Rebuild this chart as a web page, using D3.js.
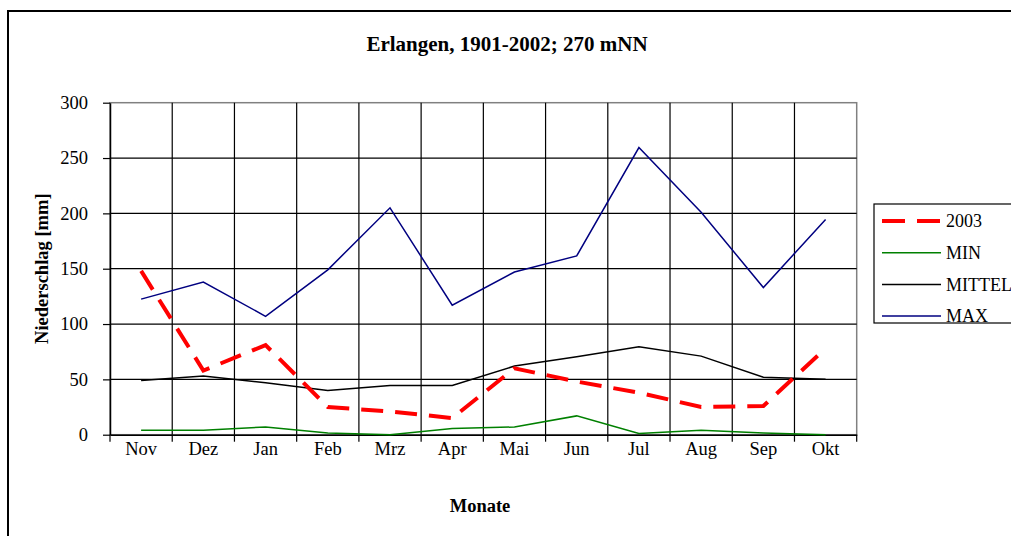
<!DOCTYPE html>
<html>
<head>
<meta charset="utf-8">
<script src="https://cdn.jsdelivr.net/npm/d3@7"></script>
<style>
  html, body { margin: 0; padding: 0; background: #fff; }
  svg { display: block; }
  text { font-family: "Liberation Serif", "Times New Roman", serif; fill: #000; }
</style>
</head>
<body>
<svg id="chart" width="1011" height="536"></svg>
<script>
const months = ["Nov","Dez","Jan","Feb","Mrz","Apr","Mai","Jun","Jul","Aug","Sep","Okt"];
const values2003 = [148, 58, 81, 25, 21, 15, 60, 48, 38, 25, 26, 78];
const valuesMin = [4, 4, 7, 1.5, 0, 5.5, 7, 17, 1, 4, 1.5, 0];
const valuesMittel = [49, 53, 47, 40, 44.5, 44.5, 62, 70.5, 79.5, 71, 52, 50];
const valuesMax = [122.5, 138, 107, 149, 205, 117, 147, 161.5, 259.5, 201, 133, 194.5];
const yTicks = [0, 50, 100, 150, 200, 250, 300];
const seriesNames = ["2003", "MIN", "MITTEL", "MAX"];

const svg = d3.select("#chart");
const L = 110, R = 856.7, T = 102.7, B = 434.7;

const x = d3.scaleBand().domain(months).range([L, R]);
const y = d3.scaleLinear().domain([0, 300]).range([B, T]);
const cx = m => x(m) + x.bandwidth() / 2;

// outer frame
svg.append("rect").attr("x", 8).attr("y", 11).attr("width", 1100).attr("height", 600)
  .attr("fill", "none").attr("stroke", "#000").attr("stroke-width", 2);

// title
svg.append("text").attr("x", 507).attr("y", 51).attr("text-anchor", "middle")
  .style("font-size", "21px").style("font-weight", "bold")
  .text("Erlangen, 1901-2002; 270 mNN");

// plot area border
svg.append("rect").attr("x", L).attr("y", T).attr("width", R - L).attr("height", B - T)
  .attr("fill", "none").attr("stroke", "#808080").attr("stroke-width", 1.5);

// horizontal gridlines
svg.append("g").selectAll("line").data(yTicks.filter(t => t > 0 && t < 300)).join("line")
  .attr("x1", L).attr("x2", R).attr("y1", d => y(d)).attr("y2", d => y(d))
  .attr("stroke", "#000").attr("stroke-width", 1.2);

// vertical gridlines at category boundaries
svg.append("g").selectAll("line").data(months.slice(1)).join("line")
  .attr("x1", d => x(d)).attr("x2", d => x(d)).attr("y1", T).attr("y2", B)
  .attr("stroke", "#000").attr("stroke-width", 1.2);

// y axis
const yAxis = svg.append("g").attr("transform", `translate(${L},0)`)
  .call(d3.axisLeft(y).tickValues(yTicks).tickSizeInner(7).tickSizeOuter(0).tickPadding(15));
yAxis.select(".domain").attr("stroke", "#000").attr("stroke-width", 1.5);
yAxis.selectAll(".tick line").attr("stroke", "#000").attr("stroke-width", 1.2);
yAxis.selectAll("text").style("font-size", "18.5px").attr("font-family", null);

// x axis
const xAxis = svg.append("g").attr("transform", `translate(0,${B})`)
  .call(d3.axisBottom(x).tickSize(0).tickPadding(7));
xAxis.select(".domain").attr("stroke", "#000").attr("stroke-width", 1.5);
xAxis.selectAll("text").style("font-size", "18.5px").attr("font-family", null);
const boundaries = months.map(m => x(m)).concat([x(months[months.length - 1]) + x.bandwidth()]);
svg.append("g").selectAll("line").data(boundaries).join("line")
  .attr("x1", d => d).attr("x2", d => d).attr("y1", B).attr("y2", B + 7)
  .attr("stroke", "#000").attr("stroke-width", 1.2);

// axis titles
svg.append("text").attr("transform", `translate(48,${(T + B) / 2}) rotate(-90)`)
  .attr("text-anchor", "middle").style("font-size", "18.5px").style("font-weight", "bold")
  .text("Niederschlag [mm]");
svg.append("text").attr("x", 480).attr("y", 512).attr("text-anchor", "middle")
  .style("font-size", "18.5px").style("font-weight", "bold").text("Monate");

// series
const styles = [
  { vals: values2003, color: "#ff0000", width: 4, dash: "22,12" },
  { vals: valuesMin, color: "#008000", width: 1.5, dash: null },
  { vals: valuesMittel, color: "#000000", width: 1.5, dash: null },
  { vals: valuesMax, color: "#000080", width: 1.5, dash: null }
];
const line = d3.line().x(d => cx(d.m)).y(d => y(d.v));
const drawOrder = [1, 2, 3, 0];
drawOrder.forEach(i => {
  const s = styles[i];
  svg.append("path")
    .datum(months.map((m, j) => ({ m, v: s.vals[j] })))
    .attr("d", line).attr("fill", "none")
    .attr("stroke", s.color).attr("stroke-width", s.width)
    .attr("stroke-dasharray", s.dash);
});

// legend
const lg = svg.append("g");
lg.append("rect").attr("x", 874).attr("y", 204).attr("width", 200).attr("height", 119)
  .attr("fill", "#fff").attr("stroke", "#000").attr("stroke-width", 1.2);
seriesNames.forEach((name, i) => {
  const yy = 221 + i * 31.7;
  const s = styles[i];
  lg.append("line").attr("x1", 882).attr("x2", 941).attr("y1", yy).attr("y2", yy)
    .attr("stroke", s.color).attr("stroke-width", s.width)
    .attr("stroke-dasharray", s.dash ? "23,12" : null);
  lg.append("text").attr("x", 946).attr("y", yy).attr("dy", "0.35em")
    .style("font-size", "18px").text(name);
});
</script>
</body>
</html>
